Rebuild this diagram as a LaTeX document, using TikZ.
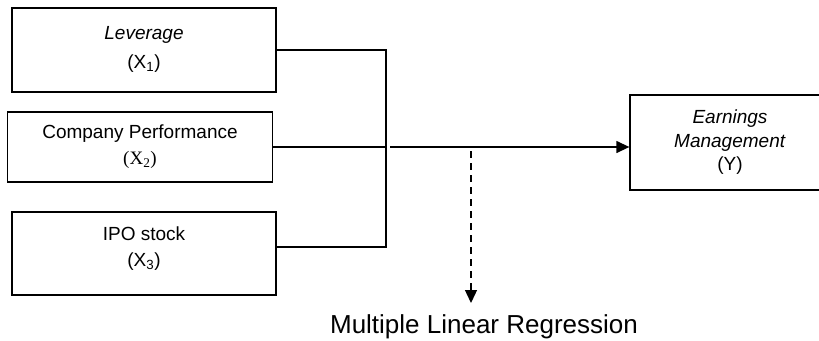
\documentclass[tikz,border=0pt]{standalone}
\usepackage{fontspec}
\setmainfont{Liberation Sans}
\newfontfamily\timesfam{Liberation Serif}
\usetikzlibrary{arrows.meta}
\tikzset{
    varbox/.style={draw, line width=1.3pt, inner sep=0pt, align=center,
        font=\fontsize{19}{26}\selectfont},
    link/.style={line width=1.3pt},
    tip/.style={-{Triangle[length=13pt, width=12pt]}},
}
\begin{document}
\begin{tikzpicture}[x=1pt, y=-1pt]
    \useasboundingbox (0, 0) rectangle (819, 340);
    % independent variables
    \node[varbox, minimum width=264pt, minimum height=84pt,
        font=\fontsize{19}{29}\selectfont] (lev) at (144, 50)
        {\textit{Leverage}\\(X\textsubscript{1})\\[-24pt]};
    \node[varbox, minimum width=265pt, minimum height=70pt] (perf) at (140, 147)
        {Company Performance\\{\timesfam (X\textsubscript{2})}};
    \node[varbox, minimum width=264pt, minimum height=83pt] (ipo) at (144, 253.5)
        {IPO stock\\(X\textsubscript{3})\\[-12pt]};
    % dependent variable
    \node[varbox, minimum width=200pt, minimum height=95pt,
        font=\fontsize{19}{23.5}\selectfont] (em) at (730, 142.5)
        {\textit{Earnings}\\\textit{Management}\\(Y)};
    \node[font=\fontsize{26}{30}\selectfont, inner sep=0pt] (mlr) at (484, 327)
        {Multiple Linear Regression};
    % bus
    \coordinate (busA) at (386, 50);
    \coordinate (busC) at (386, 247);
    \coordinate (split) at (471, 146);
    \coordinate (mlrtop) at (471, 303);
    \draw[link] (lev.east) -- (busA) -- (busC) -- (busC -| ipo.east);
    \draw[link] (perf.east) -- (perf.east -| busA);
    \draw[link, tip] ([xshift=4pt]perf.east -| busA) -- (perf.east -| em.west);
    \draw[link, tip, dash pattern=on 7pt off 5pt, shorten <=5pt] (split) -- (mlrtop);
\end{tikzpicture}
\end{document}
